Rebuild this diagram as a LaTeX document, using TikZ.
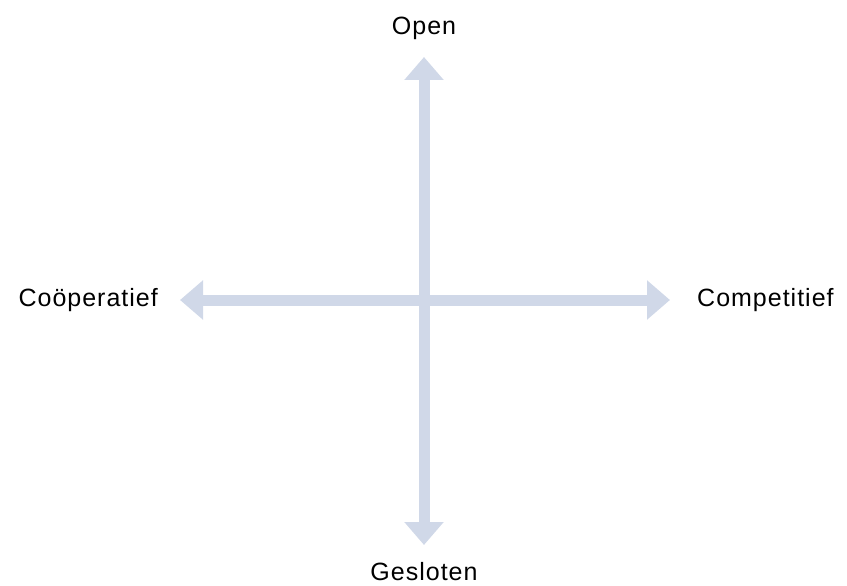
\documentclass[tikz,border=0pt]{standalone}
\usepackage{fontspec}
\setmainfont[LetterSpace=4]{Liberation Sans}
\usetikzlibrary{positioning,arrows.meta}

\definecolor{axisblue}{RGB}{208,216,232}

\begin{document}
\begin{tikzpicture}[
x=1pt,
y=-1pt,
axis/.style={
draw=axisblue,
line width=11pt,
{Triangle[width=38pt,length=23pt]}-{Triangle[width=38pt,length=23pt]}
},
label/.style={
font=\fontsize{25}{30}\selectfont,
inner sep=0pt
}
]

\useasboundingbox (0,0) rectangle (847,586);

% Axis ends

\coordinate (top) at (424,57);
\coordinate (bottom) at (424,545);
\coordinate (left) at (180,300);
\coordinate (right) at (670,300);


\draw[axis] (bottom) -- (top);
\draw[axis] (left) -- (right);


% Labels

\node (open) [label] at (424,28) {Open};

\node (gesloten) [label] at (424,572) {Gesloten};

\node (cooperatief) [label, anchor=east] at (158,300) {Coöperatief};

\node (competitief) [label, anchor=west] at (697,300) {Competitief};


\end{tikzpicture}
\end{document}
